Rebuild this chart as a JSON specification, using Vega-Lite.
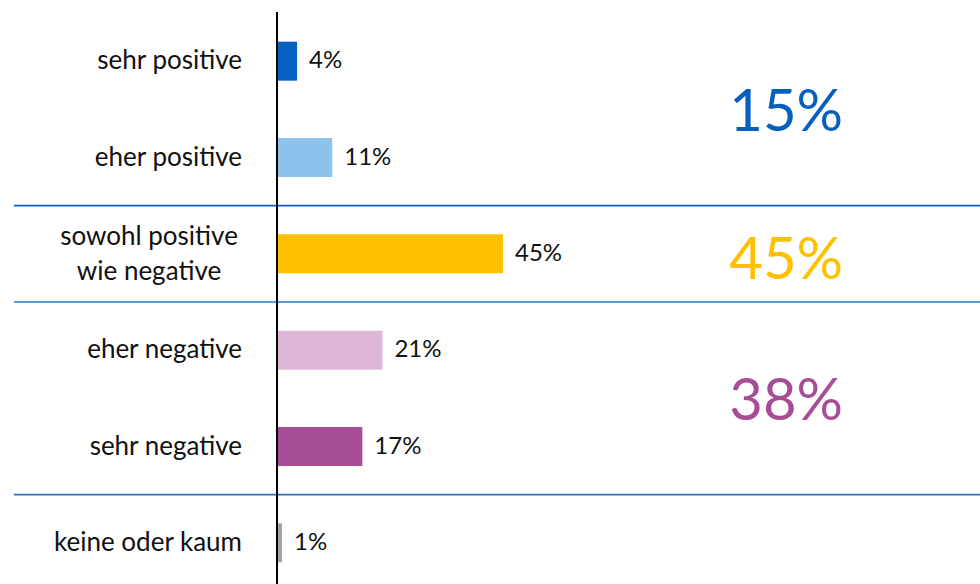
{
  "$schema": "https://vega.github.io/schema/vega-lite/v6.json",
  "width": 703,
  "height": 578,
  "autosize": {"type": "none"},
  "padding": {"left": 277, "top": 13, "right": 0, "bottom": 0},
  "config": {"view": {"stroke": null}, "font": "Lato", "text": {"font": "Lato"}},
  "data": {"values": [
    {"category": "sehr positive", "share": 0.04, "group": "positiv", "total": "15%", "boundary": ""},
    {"category": "eher positive", "share": 0.11, "group": "positiv", "total": "15%", "boundary": ""},
    {"category": "sowohl positive wie negative", "share": 0.45, "group": "ambivalent", "total": "45%", "boundary": "a"},
    {"category": "eher negative", "share": 0.21, "group": "negativ", "total": "38%", "boundary": "b"},
    {"category": "sehr negative", "share": 0.17, "group": "negativ", "total": "38%", "boundary": ""},
    {"category": "keine oder kaum", "share": 0.01, "group": "keine", "total": "", "boundary": "c"}
  ]},
  "encoding": {
    "y": {"field": "category", "type": "nominal", "sort": null,
          "scale": {"domain": ["sehr positive", "eher positive", "sowohl positive wie negative", "eher negative", "sehr negative", "keine oder kaum"], "paddingInner": 0, "paddingOuter": 0},
          "axis": null}
  },
  "layer": [
    {
      "transform": [{"filter": "datum.boundary != ''"}],
      "mark": {"type": "rule", "clip": false, "strokeWidth": 1.8},
      "encoding": {
        "y": {"field": "category", "type": "nominal", "bandPosition": 0},
        "x": {"datum": -0.524, "type": "quantitative", "scale": {"domain": [0, 1.4]}, "axis": null},
        "x2": {"datum": 1.4},
        "color": {"field": "boundary", "type": "nominal", "legend": null,
                  "scale": {"domain": ["a", "b", "c", "sehr positive", "eher positive", "sowohl positive wie negative", "eher negative", "sehr negative", "keine oder kaum", "positiv", "ambivalent", "negativ"],
                            "range": ["#0F5FBF", "#5B9BD5", "#2E75B6", "#0760C0", "#8CC2EC", "#FFC000", "#DFB7D6", "#A64D96", "#9EA6A8", "#0760C0", "#FFC000", "#A64D96"]}}
      }
    },
    {
      "mark": {"type": "bar", "size": 39},
      "encoding": {
        "x": {"field": "share", "type": "quantitative"},
        "color": {"field": "category", "type": "nominal", "legend": null}
      }
    },
    {
      "mark": {"type": "rule", "color": "#000000", "strokeWidth": 2, "clip": false},
      "encoding": {
        "x": {"datum": 0, "type": "quantitative"},
        "y": {"value": -1},
        "y2": {"value": 578}
      }
    },
    {
      "mark": {"type": "text", "align": "left", "baseline": "middle", "dx": 12, "fontSize": 24, "color": "#111111"},
      "encoding": {
        "x": {"field": "share", "type": "quantitative"},
        "text": {"field": "share", "type": "quantitative", "format": ".0%"}
      }
    },
    {
      "transform": [{"filter": "datum.category != 'sowohl positive wie negative'"}],
      "mark": {"type": "text", "align": "right", "baseline": "middle", "dx": -35, "fontSize": 26, "color": "#111111", "clip": false},
      "encoding": {
        "x": {"datum": 0, "type": "quantitative"},
        "text": {"field": "category"}
      }
    },
    {
      "transform": [{"filter": "datum.category == 'sowohl positive wie negative'"}],
      "mark": {"type": "text", "align": "center", "baseline": "middle", "dx": -128, "dy": -17, "fontSize": 26, "lineHeight": 35, "color": "#111111", "clip": false},
      "encoding": {
        "x": {"datum": 0, "type": "quantitative"},
        "text": {"value": ["sowohl positive", "wie negative"]}
      }
    },
    {
      "transform": [{"filter": "datum.category == 'eher positive' || datum.category == 'sehr negative'"}],
      "mark": {"type": "text", "align": "center", "baseline": "middle", "fontSize": 58, "dy": 5, "clip": false},
      "encoding": {
        "y": {"field": "category", "type": "nominal", "bandPosition": 0},
        "x": {"datum": 1.014, "type": "quantitative"},
        "text": {"field": "total"},
        "color": {"field": "group", "type": "nominal", "legend": null}
      }
    },
    {
      "transform": [{"filter": "datum.category == 'sowohl positive wie negative'"}],
      "mark": {"type": "text", "align": "center", "baseline": "middle", "fontSize": 58, "dy": 8},
      "encoding": {
        "x": {"datum": 1.014, "type": "quantitative"},
        "text": {"field": "total"},
        "color": {"field": "group", "type": "nominal", "legend": null}
      }
    }
  ]
}
